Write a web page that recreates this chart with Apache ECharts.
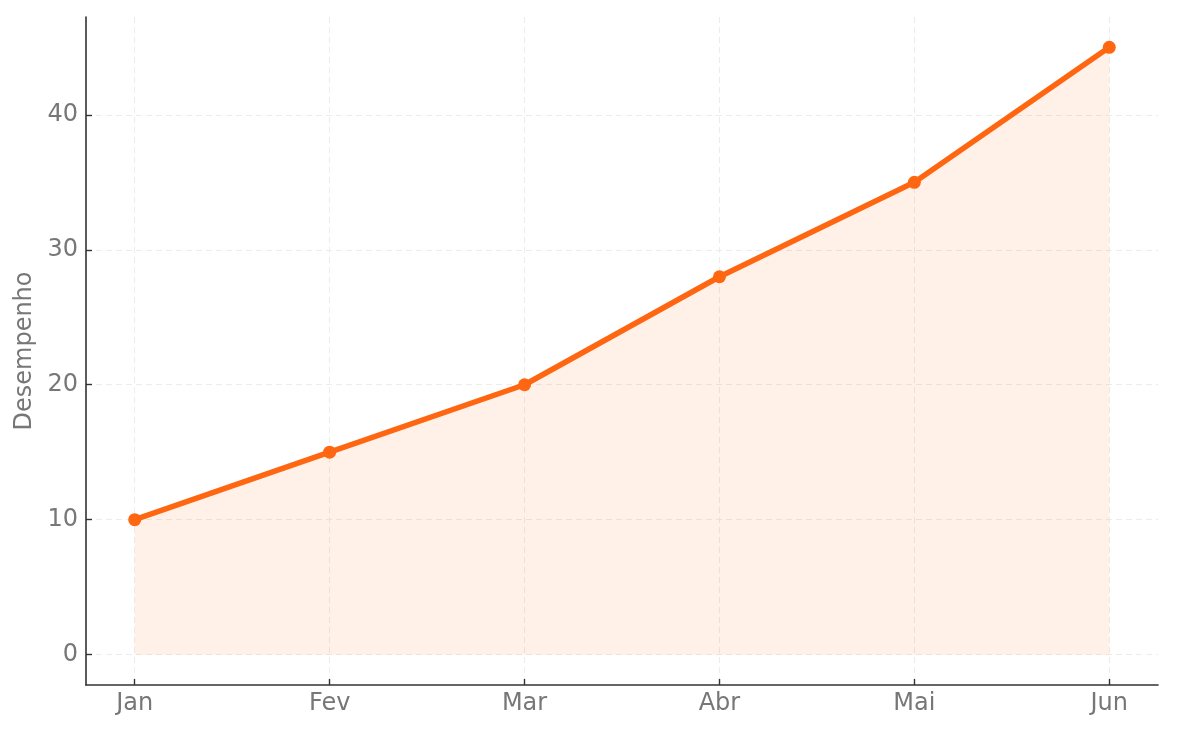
<!DOCTYPE html>
<html>
<head>
<meta charset="utf-8">
<script src="https://cdn.jsdelivr.net/npm/echarts@6/dist/echarts.min.js"></script>
<style>html,body{margin:0;padding:0;background:#fff;}#c{width:1201px;height:734px;}</style>
</head>
<body>
<div id="c"></div>
<script>
const months = ['Jan', 'Fev', 'Mar', 'Abr', 'Mai', 'Jun'];
const desempenho = [10, 15, 20, 28, 35, 45];
const yTicks = [0, 10, 20, 30, 40];
const yName = 'Desempenho';

const chart = echarts.init(document.getElementById('c'), null, {renderer: 'canvas'});
const font = 'DejaVu Sans';
const xIdx = months.map((m, i) => i);
chart.setOption({
  animation: false,
  backgroundColor: '#ffffff',
  grid: {left: 86, right: 43, top: 17, bottom: 49, containLabel: false},
  xAxis: {
    type: 'value', min: -0.25, max: 5.25,
    axisLine: {show: true, onZero: false, lineStyle: {color: '#333', width: 1.6}},
    axisTick: {show: true, inside: true, length: 6, customValues: xIdx, lineStyle: {color: '#333', width: 1.4}},
    axisLabel: {customValues: xIdx, formatter: v => months[Math.round(v)] || '', color: '#777', fontFamily: font, fontSize: 24, margin: 7},
    splitLine: {show: true, lineStyle: {color: '#ececec', type: [6, 4], width: 1}}
  },
  yAxis: {
    type: 'value', min: -2.25, max: 47.25,
    name: yName, nameLocation: 'middle', nameGap: 47,
    nameTextStyle: {color: '#777', fontFamily: font, fontSize: 24},
    axisLine: {show: true, onZero: false, lineStyle: {color: '#333', width: 1.6}},
    axisTick: {show: true, inside: true, length: 6, customValues: yTicks, lineStyle: {color: '#333', width: 1.4}},
    axisLabel: {customValues: yTicks, color: '#777', fontFamily: font, fontSize: 24, margin: 8},
    splitLine: {show: true, lineStyle: {color: '#ececec', type: [6, 4], width: 1}}
  },
  series: [{
    type: 'line',
    data: desempenho.map((v, i) => [i, v]),
    symbol: 'circle', symbolSize: 13,
    itemStyle: {color: '#ff6611'},
    lineStyle: {color: '#ff6611', width: 5.5},
    areaStyle: {color: 'rgba(255,102,17,0.14)', origin: 0},
    z: 3
  }]
});
</script>
</body>
</html>
